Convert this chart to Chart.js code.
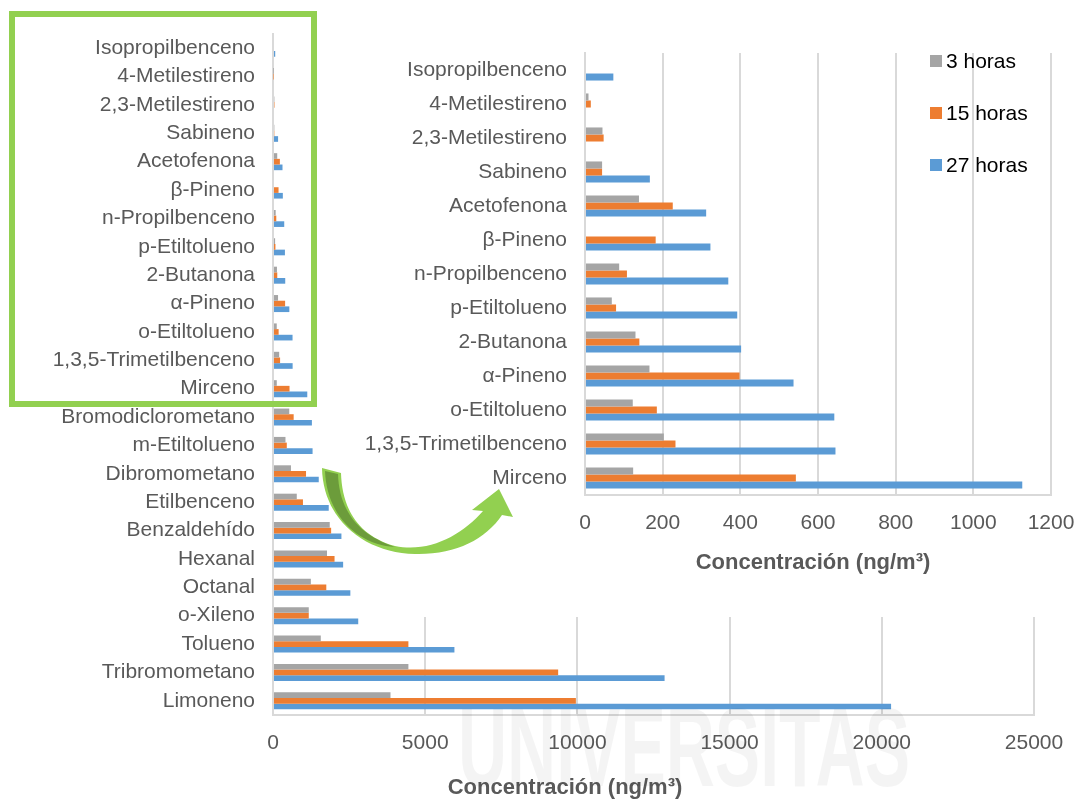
<!DOCTYPE html>
<html lang="es">
<head>
<meta charset="utf-8">
<title>Concentración de COV</title>
<script src="https://cdn.jsdelivr.net/npm/chart.js@4.4.1/dist/chart.umd.min.js"></script>
<style>
  html, body { margin: 0; padding: 0; background: #fff; }
  #page { position: relative; width: 1077px; height: 801px; overflow: hidden; background: #fff; }
  #mainChart { position: absolute; left: 0; top: 0; }
  #frame { position: absolute; left: 9px; top: 11px; width: 308px; height: 396px;
           border: 6px solid #92d050; box-sizing: border-box; }
  #zoomChart { position: absolute; left: 362px; top: 0; }
  #arrow { position: absolute; left: 0; top: 0; }
</style>
</head>
<body>
<div id="page">
  <canvas id="mainChart" width="1077" height="801"></canvas>
  <div id="frame"></div>
  <canvas id="zoomChart" width="715" height="617"></canvas>
  <svg id="arrow" width="1077" height="801" viewBox="0 0 1077 801">
    <path fill="#92d050" d="M 322 468 L 341 473 C 342 505, 355 535, 395 546 C 430 553, 462 535, 483 511 L 472 510 L 499 489 L 513 517 L 502 515 C 485 540, 455 555, 415 554 C 365 553, 323 520, 322 468 Z"/>
    <path fill="#6c9c3b" d="M 325 471 L 338 474 C 339 505, 353 533, 395 547 C 360 545, 327 518, 325 471 Z"/>
  </svg>
</div>
<script>
// Compounds, listed top to bottom
const compuestos = [
  'Isopropilbenceno', '4-Metilestireno', '2,3-Metilestireno', 'Sabineno',
  'Acetofenona', 'β-Pineno', 'n-Propilbenceno', 'p-Etiltolueno', '2-Butanona',
  'α-Pineno', 'o-Etiltolueno', '1,3,5-Trimetilbenceno', 'Mirceno',
  'Bromodiclorometano', 'm-Etiltolueno', 'Dibromometano', 'Etilbenceno',
  'Benzaldehído', 'Hexanal', 'Octanal', 'o-Xileno', 'Tolueno',
  'Tribromometano', 'Limoneno'
];

// Concentration (ng/m³) after each sampling time
const horas3 = [0, 9, 45, 44, 139, 0, 88, 69, 130, 166, 123, 203, 124,
                534, 410, 590, 781, 1864, 1774, 1244, 1175, 1570, 4448, 3860];
const horas15 = [0, 15, 48, 44, 226, 182, 108, 80, 140, 398, 185, 233, 543,
                 679, 453, 1085, 984, 1910, 2022, 1751, 1175, 4448, 9368, 9950];
const horas27 = [73, 0, 0, 167, 312, 323, 369, 392, 402, 537, 642, 645, 1126,
                 1278, 1300, 1503, 1831, 2248, 2304, 2541, 2800, 5960, 12864, 20305];

const seriesLabels = ['3 horas', '15 horas', '27 horas'];

// Number of low-concentration compounds shown enlarged
const nDetalle = 13;

// Axis ticks
const ticksMain = [0, 5000, 10000, 15000, 20000, 25000];
const ticksDetalle = [0, 200, 400, 600, 800, 1000, 1200];

const axisTitle = 'Concentración (ng/m³)';

const COLORS = ['#a5a5a5', '#ed7d31', '#5b9bd5'];
const FONT = '"Liberation Sans", Arial, Helvetica, sans-serif';
const TEXT = '#595959';
const GRID = '#d9d9d9';

Chart.defaults.font.family = FONT;
Chart.defaults.color = TEXT;

function makeDatasets(sliceEnd, catPct) {
  return [horas3, horas15, horas27].map((vals, i) => ({
    label: seriesLabels[i],
    data: vals.slice(0, sliceEnd),
    backgroundColor: COLORS[i],
    borderWidth: 0,
    categoryPercentage: catPct,
    barPercentage: 1.0
  }));
}

// White backdrop so the enlarged panel hides what lies beneath it
const whiteBg = {
  id: 'whiteBg',
  beforeDraw(chart) {
    const c = chart.ctx;
    c.save();
    c.fillStyle = '#fff';
    c.fillRect(0, 0, chart.width, chart.height);
    c.restore();
  }
};

// Axis caption placed relative to the plot area
const axisCaption = {
  id: 'axisCaption',
  afterDraw(chart, args, opts) {
    const { ctx, chartArea } = chart;
    ctx.save();
    ctx.font = 'bold 22px ' + FONT;
    ctx.fillStyle = TEXT;
    ctx.textAlign = 'center';
    ctx.textBaseline = 'middle';
    ctx.fillText(opts.text, chartArea.left + opts.dx, chartArea.bottom + opts.dy);
    ctx.restore();
  }
};

// Stacked legend inside the enlarged panel
const sideLegend = {
  id: 'sideLegend',
  afterDraw(chart, args, opts) {
    const ctx = chart.ctx;
    ctx.save();
    ctx.font = '21px ' + FONT;
    ctx.textBaseline = 'middle';
    ctx.textAlign = 'left';
    chart.data.datasets.forEach((ds, i) => {
      const y = opts.top + i * opts.gap;
      ctx.fillStyle = ds.backgroundColor;
      ctx.fillRect(opts.x, y - 6, 12, 12);
      ctx.fillStyle = '#000';
      ctx.fillText(ds.label, opts.x + 16, y + 1);
    });
    ctx.restore();
  }
};

// Faint institutional watermark across the lower part
const watermark = {
  id: 'watermark',
  afterDraw(chart, args, opts) {
    const ctx = chart.ctx;
    ctx.save();
    ctx.font = 'bold 112px ' + FONT;
    const w = ctx.measureText(opts.text).width;
    ctx.translate(opts.x, opts.y);
    ctx.scale(opts.width / w, 1);
    ctx.fillStyle = 'rgba(0,0,0,0.045)';
    ctx.textBaseline = 'alphabetic';
    ctx.fillText(opts.text, 0, 0);
    ctx.restore();
  }
};

function scalesFor(max, tickList, yWidth, xHeight, xPad) {
  return {
    x: {
      type: 'linear', min: 0, max: max,
      afterBuildTicks(scale) { scale.ticks = tickList.map(v => ({ value: v })); },
      ticks: {
        font: { size: 21 }, color: TEXT, padding: xPad, maxRotation: 0,
        callback: v => String(v)
      },
      grid: { color: GRID, lineWidth: 2, drawTicks: false },
      border: { display: true, color: GRID, width: 2 },
      afterFit(scale) {
        scale.height = xHeight;
        // edge labels may overhang the plot; keep the plot width fixed
        scale.paddingLeft = 0;
        scale.paddingRight = 0;
      }
    },
    y: {
      type: 'category',
      ticks: { font: { size: 21 }, color: TEXT, padding: 18, autoSkip: false },
      grid: { display: false, drawTicks: false },
      border: { display: true, color: GRID, width: 2 },
      afterFit(scale) { scale.width = yWidth; }
    }
  };
}

// Full chart with every compound
new Chart(document.getElementById('mainChart'), {
  type: 'bar',
  data: { labels: compuestos, datasets: makeDatasets(compuestos.length, 0.6) },
  options: {
    indexAxis: 'y',
    responsive: false,
    animation: false,
    devicePixelRatio: 1,
    layout: { padding: { top: 34, right: 43, left: 0, bottom: 0 } },
    scales: scalesFor(25000, ticksMain, 273, 86, 16),
    plugins: {
      legend: { display: false },
      tooltip: { enabled: false },
      axisCaption: { text: axisTitle, dx: 292, dy: 73 },
      watermark: { text: 'UNIVERSITAS', x: 458, y: 786, width: 452 }
    }
  },
  plugins: [whiteBg, axisCaption, watermark]
});

// Enlarged view of the low-concentration compounds
new Chart(document.getElementById('zoomChart'), {
  type: 'bar',
  data: { labels: compuestos.slice(0, nDetalle), datasets: makeDatasets(nDetalle, 0.62) },
  options: {
    indexAxis: 'y',
    responsive: false,
    animation: false,
    devicePixelRatio: 1,
    layout: { padding: { top: 53, right: 26, left: 0, bottom: 0 } },
    scales: scalesFor(1200, ticksDetalle, 223, 122, 16),
    plugins: {
      legend: { display: false },
      tooltip: { enabled: false },
      axisCaption: { text: axisTitle, dx: 228, dy: 68 },
      sideLegend: { x: 568, top: 61, gap: 52 }
    }
  },
  plugins: [whiteBg, axisCaption, sideLegend]
});
</script>
</body>
</html>
